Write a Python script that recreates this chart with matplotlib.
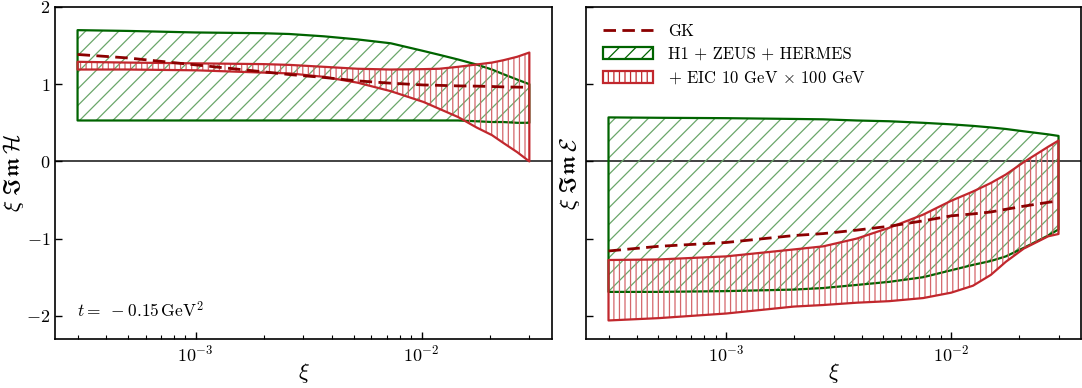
import matplotlib
matplotlib.use('Agg')
from matplotlib import pyplot as plt
from matplotlib.patches import Patch
from matplotlib.lines import Line2D

# Computer Modern 느낌
plt.rcParams['font.family'] = 'serif'
plt.rcParams['font.serif'] = ['cmr10', 'DejaVu Serif']
plt.rcParams['mathtext.fontset'] = 'cm'
plt.rcParams['axes.formatter.use_mathtext'] = True
plt.rcParams['axes.unicode_minus'] = True
plt.rcParams['hatch.linewidth'] = 0.9

# xi Im H
xi_H = [3e-4, 5e-4, 1e-3, 2e-3, 2.6e-3, 3.7e-3, 5.2e-3, 7.3e-3, 1.02e-2, 1.2e-2,
        1.45e-2, 1.75e-2, 2.05e-2, 2.3e-2, 2.65e-2, 3e-2]
gk_H = [1.385, 1.34, 1.25, 1.16, 1.125, 1.087, 1.043, 1.013, 0.99, 0.985,
        0.978, 0.975, 0.97, 0.965, 0.962, 0.96]
old_lo_H = [0.53, 0.53, 0.53, 0.53, 0.53, 0.53, 0.53, 0.53, 0.53, 0.53,
            0.53, 0.52, 0.51, 0.51, 0.50, 0.50]
old_hi_H = [1.70, 1.69, 1.67, 1.66, 1.65, 1.62, 1.58, 1.53, 1.43, 1.38,
            1.32, 1.255, 1.19, 1.13, 1.06, 1.00]
eic_lo_H = [1.19, 1.19, 1.18, 1.15, 1.14, 1.095, 1.02, 0.91, 0.77, 0.68,
            0.575, 0.44, 0.34, 0.24, 0.12, 0.00]
eic_hi_H = [1.29, 1.28, 1.27, 1.26, 1.25, 1.225, 1.20, 1.19, 1.195, 1.20,
            1.225, 1.255, 1.28, 1.31, 1.355, 1.41]

# xi Im E
xi_E = [3e-4, 5e-4, 1e-3, 2e-3, 2.7e-3, 3.8e-3, 5.3e-3, 7.5e-3, 1e-2, 1.25e-2,
        1.5e-2, 1.75e-2, 2.1e-2, 2.7e-2, 3e-2]
gk_E = [-1.16, -1.10, -1.05, -0.96, -0.935, -0.89, -0.84, -0.77, -0.705, -0.68,
        -0.655, -0.62, -0.58, -0.53, -0.51]
old_lo_E = [-1.69, -1.69, -1.68, -1.66, -1.64, -1.60, -1.56, -1.50, -1.41, -1.34,
            -1.29, -1.23, -1.12, -0.96, -0.88]
old_hi_E = [0.57, 0.565, 0.56, 0.55, 0.545, 0.53, 0.52, 0.50, 0.48, 0.46,
            0.44, 0.42, 0.39, 0.35, 0.33]
eic_lo_E = [-2.06, -2.03, -1.97, -1.88, -1.86, -1.83, -1.81, -1.77, -1.70, -1.61,
            -1.47, -1.30, -1.13, -0.97, -0.94]
eic_hi_E = [-1.277, -1.27, -1.23, -1.14, -1.10, -1.00, -0.86, -0.69, -0.51, -0.39,
            -0.28, -0.17, -0.01, 0.19, 0.27]

green = '#006400'
green_hatch = '#6aa66a'
red = '#c1272d'
red_hatch = '#d4666b'
darkred = '#8b0000'


def draw_panel(ax, xi, gk, old_lo, old_hi, eic_lo, eic_hi):
    ax.axhline(0, color='#222222', lw=1.2, zorder=1)
    # H1 + ZEUS + HERMES
    ax.fill_between(xi, old_lo, old_hi, facecolor='none', edgecolor=green_hatch,
                    hatch='//', linewidth=0, zorder=2)
    ax.fill_between(xi, old_lo, old_hi, facecolor='none', edgecolor=green,
                    linewidth=1.6, zorder=3)
    # + EIC
    ax.fill_between(xi, eic_lo, eic_hi, facecolor='none', edgecolor=red_hatch,
                    hatch='|||', linewidth=0, zorder=4)
    ax.fill_between(xi, eic_lo, eic_hi, facecolor='none', edgecolor=red,
                    linewidth=1.6, zorder=5)
    # GK
    ax.plot(xi, gk, color=darkred, lw=2.0, ls=(0, (4.5, 2.3)), zorder=6)

    ax.set_xscale('log')
    ax.set_ylim(-2.3, 2.0)
    ax.set_yticks([-2, -1, 0, 1, 2])
    ax.tick_params(which='both', direction='in', labelsize=13)
    ax.tick_params(which='major', length=5, width=1.0)
    ax.tick_params(which='minor', length=3, width=0.8)
    for s in ax.spines.values():
        s.set_linewidth(1.2)
    ax.set_xlabel(r'$\xi$', fontsize=16)
    ax.xaxis.set_label_coords(0.5, -0.065)


fig = plt.figure(figsize=(10.82, 3.88), dpi=100)
ax1 = fig.add_axes([0.0508, 0.1263, 0.4593, 0.8557])
ax2 = fig.add_axes([0.5416, 0.1263, 0.4575, 0.8557], sharey=ax1)

draw_panel(ax1, xi_H, gk_H, old_lo_H, old_hi_H, eic_lo_H, eic_hi_H)
draw_panel(ax2, xi_E, gk_E, old_lo_E, old_hi_E, eic_lo_E, eic_hi_E)

ax1.set_ylabel(r'$\xi\ \mathfrak{Im}\,\mathcal{H}$', fontsize=16.5)
ax2.set_ylabel(r'$\xi\ \mathfrak{Im}\,\mathcal{E}$', fontsize=16.5)
ax1.yaxis.set_label_coords(-0.058, 0.5)
ax2.yaxis.set_label_coords(-0.008, 0.5)
ax2.tick_params(labelleft=False)

ax1.text(0.044, 0.065, r'$t =\ -0.15\,\mathrm{GeV}^2$', transform=ax1.transAxes,
         fontsize=12.5, va='baseline', ha='left')

handles = [
    Line2D([], [], color=darkred, lw=2.0, ls=(0, (4.5, 2.3))),
    Patch(facecolor='none', edgecolor=green, hatch='//', linewidth=1.6),
    Patch(facecolor='none', edgecolor=red, hatch='|||', linewidth=1.6),
]
labels = ['GK', 'H1 + ZEUS + HERMES', r'+ EIC 10 GeV $\times$ 100 GeV']
ax2.legend(handles, labels, loc='upper left', frameon=False, fontsize=12,
           handlelength=3.0, handletextpad=0.9, labelspacing=0.45,
           borderaxespad=0.6)

plt.savefig('out.png', dpi=100)
plt.close()
